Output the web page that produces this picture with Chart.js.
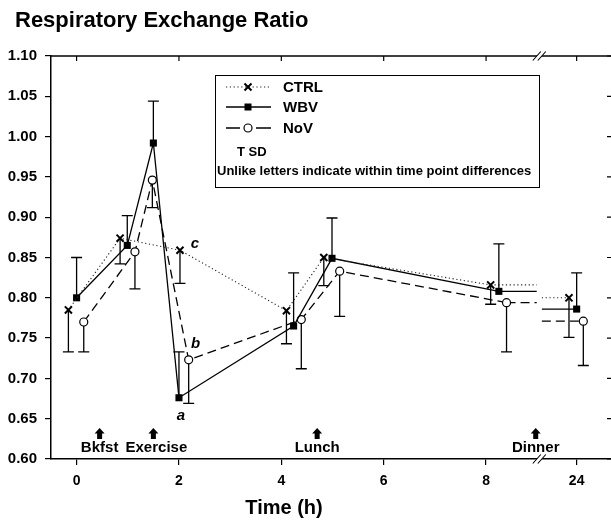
<!DOCTYPE html>
<html>
<head>
<meta charset="utf-8">
<script src="https://cdn.jsdelivr.net/npm/chart.js@4.4.0/dist/chart.umd.min.js"></script>
<style>
html, body { margin: 0; padding: 0; background: #fff; overflow: hidden; }
canvas { display: block; }
</style>
</head>
<body>
<canvas id="rerChart" width="625" height="525"></canvas>
<script>
// time axis is compressed after 8 h: 9.77 on the scale stands for 24 h
const xTickValues = [0, 2, 4, 6, 8, 9.77];
const xTickLabels = ['0', '2', '4', '6', '8', '24'];

const ctrlTimes = [-0.16, 0.85, 2.02, 4.1, 4.83, 8.09, 9.62];
const ctrlValues = [0.785, 0.874, 0.859, 0.784, 0.850, 0.816, 0.800];
const ctrlSD = [0.052, 0.032, 0.041, 0.041, 0.035, 0.024, 0.049];

const wbvTimes = [0, 0.99, 1.5, 2.0, 4.24, 4.99, 8.25, 9.77];
const wbvValues = [0.800, 0.865, 0.992, 0.676, 0.765, 0.849, 0.808, 0.786];
const wbvSD = [0.050, 0.037, 0.052, 0.057, 0.066, 0.050, 0.059, 0.045];

const novTimes = [0.14, 1.14, 1.48, 2.19, 4.39, 5.14, 8.4, 9.9];
const novValues = [0.770, 0.857, 0.946, 0.723, 0.773, 0.833, 0.794, 0.771];
const novSD = [0.037, 0.046, 0.034, 0.054, 0.061, 0.056, 0.061, 0.055];

const mealTimes = [0.45, 1.5, 4.7, 8.97];
const mealLabels = ['Bkfst', 'Exercise', 'Lunch', 'Dinner'];

const axisBreak = 9.04;
const FONT = '"Liberation Sans", Arial, sans-serif';

// dir: which side the SD bar is drawn on
const series = [
    { label: 'CTRL', times: ctrlTimes, values: ctrlValues, sd: ctrlSD, dir: -1, dash: [1.2, 2.6], width: 1.1, color: '#222' },
    { label: 'WBV', times: wbvTimes, values: wbvValues, sd: wbvSD, dir: 1, dash: [], width: 1.3, color: '#000' },
    { label: 'NoV', times: novTimes, values: novValues, sd: novSD, dir: -1, dash: [9, 5], width: 1.3, color: '#000' }
];

function hideBreak(ctx) {
    return (ctx.p0.parsed.x < axisBreak && ctx.p1.parsed.x > axisBreak) ? 'rgba(0,0,0,0)' : undefined;
}

function points(s) {
    return s.times.map((t, i) => ({ x: t, y: s.values[i] }));
}

function drawMarker(ctx, style, x, y) {
    ctx.save();
    ctx.setLineDash([]);
    if (style === 'crossRot') {
        ctx.strokeStyle = '#000';
        ctx.lineWidth = 2;
        ctx.beginPath();
        ctx.moveTo(x - 3.5, y - 3.5); ctx.lineTo(x + 3.5, y + 3.5);
        ctx.moveTo(x + 3.5, y - 3.5); ctx.lineTo(x - 3.5, y + 3.5);
        ctx.stroke();
    } else if (style === 'rect') {
        ctx.fillStyle = '#000';
        ctx.fillRect(x - 3.5, y - 3.5, 7, 7);
    } else {
        ctx.fillStyle = '#fff';
        ctx.strokeStyle = '#000';
        ctx.lineWidth = 1.2;
        ctx.beginPath();
        ctx.arc(x, y, 4, 0, Math.PI * 2);
        ctx.fill();
        ctx.stroke();
    }
    ctx.restore();
}

const extras = {
    id: 'extras',
    beforeDatasetsDraw(chart) {
        const { ctx } = chart;
        const xs = chart.scales.x, ys = chart.scales.y;
        ctx.save();
        series.forEach(s => {
            // SD bars
            ctx.strokeStyle = '#000';
            ctx.lineWidth = 1.3;
            ctx.setLineDash([]);
            s.times.forEach((t, i) => {
                const px = xs.getPixelForValue(t);
                const p0 = ys.getPixelForValue(s.values[i]);
                const p1 = ys.getPixelForValue(s.values[i] + s.dir * s.sd[i]);
                ctx.beginPath();
                ctx.moveTo(px, p0); ctx.lineTo(px, p1);
                ctx.moveTo(px - 5.5, p1); ctx.lineTo(px + 5.5, p1);
                ctx.stroke();
            });
            // short stubs either side of the axis break
            const n = s.times.length;
            ctx.strokeStyle = s.color;
            ctx.lineWidth = s.width;
            ctx.setLineDash(s.dash);
            const yl = ys.getPixelForValue(s.values[n - 2]);
            const yr = ys.getPixelForValue(s.values[n - 1]);
            ctx.beginPath();
            ctx.moveTo(xs.getPixelForValue(s.times[n - 2]), yl);
            ctx.lineTo(xs.getPixelForValue(axisBreak - 0.05), yl);
            ctx.moveTo(xs.getPixelForValue(axisBreak + 0.05), yr);
            ctx.lineTo(xs.getPixelForValue(s.times[n - 1]), yr);
            ctx.stroke();
        });
        ctx.restore();
    },
    afterDraw(chart) {
        const { ctx, chartArea } = chart;
        const xs = chart.scales.x, ys = chart.scales.y;
        const { left, right, top, bottom } = chartArea;
        ctx.save();
        ctx.setLineDash([]);

        // top spine, inward ticks on top and right
        ctx.strokeStyle = '#000';
        ctx.lineWidth = 1.5;
        ctx.beginPath();
        ctx.moveTo(left, top); ctx.lineTo(right, top);
        ctx.stroke();
        ctx.lineWidth = 1.2;
        ctx.beginPath();
        xTickValues.forEach(v => {
            const px = xs.getPixelForValue(v);
            ctx.moveTo(px, top); ctx.lineTo(px, top + 5);
        });
        ys.ticks.forEach(t => {
            const py = ys.getPixelForValue(t.value);
            ctx.moveTo(right, py); ctx.lineTo(right - 6, py);
        });
        ctx.stroke();

        // break marks on both spines
        const bx = xs.getPixelForValue(axisBreak);
        [top, bottom].forEach(yy => {
            ctx.fillStyle = '#fff';
            ctx.beginPath();
            ctx.moveTo(bx - 6.5, yy + 4.5); ctx.lineTo(bx + 1.5, yy - 4.5);
            ctx.lineTo(bx + 6.5, yy - 4.5); ctx.lineTo(bx - 1.5, yy + 4.5);
            ctx.closePath();
            ctx.fill();
            ctx.lineWidth = 1.1;
            ctx.beginPath();
            ctx.moveTo(bx - 6.5, yy + 4.5); ctx.lineTo(bx + 1.5, yy - 4.5);
            ctx.moveTo(bx - 1.5, yy + 4.5); ctx.lineTo(bx + 6.5, yy - 4.5);
            ctx.stroke();
        });

        // title and axis title
        ctx.fillStyle = '#000';
        ctx.textBaseline = 'alphabetic';
        ctx.textAlign = 'left';
        ctx.font = 'bold 22px ' + FONT;
        ctx.fillText('Respiratory Exchange Ratio', 15, 27);
        ctx.textAlign = 'center';
        ctx.font = 'bold 20px ' + FONT;
        ctx.fillText('Time (h)', 284, 514);

        // meal / exercise arrows
        mealTimes.forEach((t, i) => {
            const px = xs.getPixelForValue(t);
            const tip = bottom - 31;
            ctx.beginPath();
            ctx.moveTo(px, tip);
            ctx.lineTo(px + 5, tip + 5.5);
            ctx.lineTo(px + 2.5, tip + 5.5);
            ctx.lineTo(px + 2.5, tip + 11);
            ctx.lineTo(px - 2.5, tip + 11);
            ctx.lineTo(px - 2.5, tip + 5.5);
            ctx.lineTo(px - 5, tip + 5.5);
            ctx.closePath();
            ctx.fill();
            ctx.font = 'bold 15px ' + FONT;
            ctx.fillText(mealLabels[i], px + (i === 1 ? 3 : 0), bottom - 7.5);
        });

        // significance letters next to the 2 h points
        ctx.font = 'italic bold 15px ' + FONT;
        ctx.textBaseline = 'middle';
        ctx.fillText('c', xs.getPixelForValue(ctrlTimes[2]) + 15, ys.getPixelForValue(ctrlValues[2]) - 6);
        ctx.fillText('b', xs.getPixelForValue(novTimes[3]) + 7, ys.getPixelForValue(novValues[3]) - 16);
        ctx.fillText('a', xs.getPixelForValue(wbvTimes[3]) + 2, ys.getPixelForValue(wbvValues[3]) + 18);

        // legend box
        ctx.strokeStyle = '#000';
        ctx.lineWidth = 1;
        ctx.strokeRect(215.5, 75.5, 324, 112);
        const rows = [87, 107, 128];
        const styles = ['crossRot', 'rect', 'circle'];
        series.forEach((s, i) => {
            const yy = rows[i];
            ctx.strokeStyle = s.color;
            ctx.lineWidth = s.width;
            ctx.setLineDash(s.dash);
            ctx.beginPath();
            if (i === 2) {
                ctx.setLineDash([]);
                ctx.moveTo(226, yy); ctx.lineTo(240, yy);
                ctx.moveTo(256, yy); ctx.lineTo(271, yy);
            } else {
                ctx.moveTo(226, yy); ctx.lineTo(271, yy);
            }
            ctx.stroke();
            ctx.setLineDash([]);
            drawMarker(ctx, styles[i], 248, yy);
            ctx.fillStyle = '#000';
            ctx.textAlign = 'left';
            ctx.font = 'bold 15px ' + FONT;
            ctx.fillText(s.label, 283, yy + 1);
        });
        ctx.font = 'bold 13px ' + FONT;
        ctx.fillText('T SD', 237, 152);
        ctx.fillText('Unlike letters indicate within time point differences', 217, 171);
        ctx.restore();
    }
};

const tickFont = { family: FONT, weight: 'bold' };

new Chart(document.getElementById('rerChart'), {
    type: 'line',
    data: {
        datasets: [
            {
                label: 'CTRL', data: points(series[0]), borderColor: '#222', borderWidth: 1.1,
                borderDash: [1.2, 2.6], pointStyle: 'crossRot', pointRadius: 5, pointBorderWidth: 2,
                pointBorderColor: '#000', pointBackgroundColor: '#000', segment: { borderColor: hideBreak }
            },
            {
                label: 'WBV', data: points(series[1]), borderColor: '#000', borderWidth: 1.3,
                pointStyle: 'rect', pointRadius: 5, pointBorderWidth: 0,
                pointBackgroundColor: '#000', segment: { borderColor: hideBreak }
            },
            {
                label: 'NoV', data: points(series[2]), borderColor: '#000', borderWidth: 1.3,
                borderDash: [9, 5], pointStyle: 'circle', pointRadius: 4, pointBorderWidth: 1.2,
                pointBorderColor: '#000', pointBackgroundColor: '#fff', segment: { borderColor: hideBreak }
            }
        ]
    },
    options: {
        responsive: false,
        animation: false,
        layout: { padding: { top: 56, right: 12, left: 0, bottom: 0 } },
        plugins: { legend: { display: false }, tooltip: { enabled: false } },
        scales: {
            x: {
                type: 'linear', min: -0.5, max: 10.48,
                afterBuildTicks: s => { s.ticks = xTickValues.map(v => ({ value: v })); },
                afterFit: s => { s.height = 66; },
                ticks: {
                    callback: (v, i) => xTickLabels[i], autoSkip: false, maxRotation: 0,
                    padding: 8, color: '#000', font: Object.assign({ size: 14 }, tickFont)
                },
                grid: { drawOnChartArea: false, tickLength: 6, color: '#000', lineWidth: 1.2 },
                border: { color: '#000', width: 1.5 }
            },
            y: {
                min: 0.6, max: 1.1,
                afterFit: s => { s.width = 51; },
                ticks: {
                    stepSize: 0.05, callback: v => v.toFixed(2),
                    padding: 8, color: '#000', font: Object.assign({ size: 15 }, tickFont)
                },
                grid: { drawOnChartArea: false, tickLength: 6, color: '#000', lineWidth: 1.2 },
                border: { color: '#000', width: 1.5 }
            }
        }
    },
    plugins: [extras]
});
</script>
</body>
</html>
